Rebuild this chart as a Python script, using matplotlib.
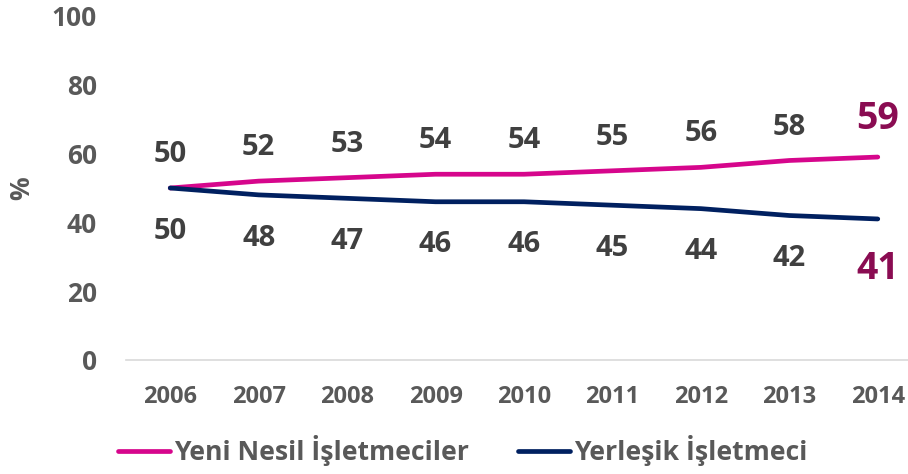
import matplotlib
matplotlib.use("Agg")
import matplotlib.pyplot as plt

# chart data
years = ["2006", "2007", "2008", "2009", "2010", "2011", "2012", "2013", "2014"]
yeni_nesil = [50, 52, 53, 54, 54, 55, 56, 58, 59]
yerlesik = [50, 48, 47, 46, 46, 45, 44, 42, 41]
series_names = ["Yeni Nesil İşletmeciler", "Yerleşik İşletmeci"]
y_ticks = [0, 20, 40, 60, 80, 100]

PINK = "#D6068C"
NAVY = "#002060"
CRIMSON = "#8A0C52"
GRAY = "#595959"
DARK = "#404040"

plt.rcParams["font.family"] = ["Open Sans", "DejaVu Sans"]
plt.rcParams["font.weight"] = "bold"

W, H = 908, 474
fig = plt.figure(figsize=(W / 100, H / 100), dpi=100)
# axes placed in pixel terms; right edge runs past the figure like the original
ax = fig.add_axes([126 / W, 114 / H, (922 - 126) / W, 344 / H])

x = list(range(len(years)))
ax.plot(x, yeni_nesil, color=PINK, lw=3.4, solid_capstyle="round", label=series_names[0], zorder=3)
ax.plot(x, yerlesik, color=NAVY, lw=3.4, solid_capstyle="round", label=series_names[1], zorder=3)

ax.set_xlim(-0.5, len(years) - 0.5)
ax.set_ylim(0, 100)
ax.set_yticks(y_ticks)
ax.set_xticks(x)
ax.set_xticklabels(years)

for s in ["top", "right", "left"]:
    ax.spines[s].set_visible(False)
ax.spines["bottom"].set_color("#D9D9D9")
ax.spines["bottom"].set_linewidth(1.2)
ax.tick_params(axis="both", length=0)
ax.tick_params(axis="y", pad=21, labelsize=19, labelcolor=GRAY)
ax.tick_params(axis="x", pad=18, labelsize=17, labelcolor=GRAY)
for lab in ax.get_xticklabels() + ax.get_yticklabels():
    lab.set_fontweight("bold")
fig.text(22 / W, 1 - 188 / H, "%", rotation=90, ha="center", va="center",
         fontsize=19, color=GRAY, fontweight="bold")

last = len(years) - 1
for i in x:
    if i == last:
        ax.annotate(str(yeni_nesil[i]), (i, yeni_nesil[i]), xytext=(0, 20), textcoords="offset points",
                    ha="center", va="baseline", fontsize=27, color=CRIMSON, fontweight="bold")
        ax.annotate(str(yerlesik[i]), (i, yerlesik[i]), xytext=(0, -43), textcoords="offset points",
                    ha="center", va="baseline", fontsize=27, color=CRIMSON, fontweight="bold")
    else:
        ax.annotate(str(yeni_nesil[i]), (i, yeni_nesil[i]), xytext=(0, 18.7), textcoords="offset points",
                    ha="center", va="baseline", fontsize=21, color=DARK, fontweight="bold")
        ax.annotate(str(yerlesik[i]), (i, yerlesik[i]), xytext=(0, -36.5), textcoords="offset points",
                    ha="center", va="baseline", fontsize=21, color=DARK, fontweight="bold")

fig.legend(loc="center left", bbox_to_anchor=(118 / W, 1 - 451 / H), ncol=2, frameon=False,
           prop={"size": 19.2, "weight": "bold"}, labelcolor=GRAY, handlelength=1.95,
           handletextpad=0.15, columnspacing=1.85, borderaxespad=0, borderpad=0)

fig.savefig("out.png", dpi=100)
